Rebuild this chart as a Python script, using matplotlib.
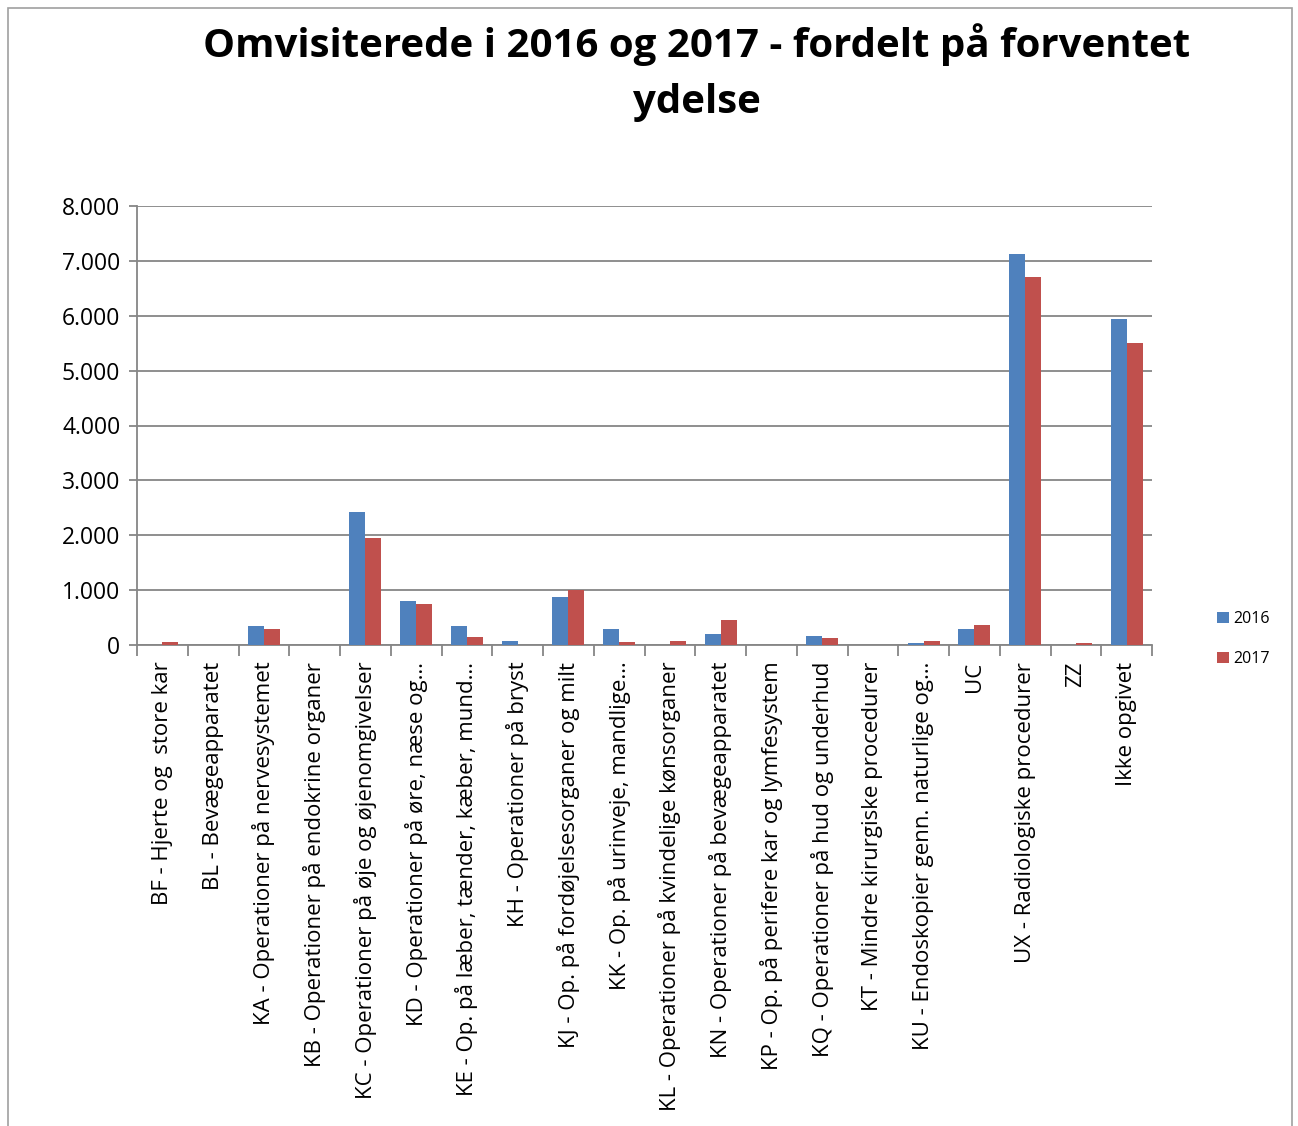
import matplotlib
matplotlib.use("Agg")
import matplotlib.pyplot as plt
import matplotlib.ticker as tck
from matplotlib.patches import Rectangle
import numpy as np

plt.rcParams['font.family'] = ['Open Sans', 'DejaVu Sans']

categories = [
    "BF - Hjerte og  store kar",
    "BL - Bevægeapparatet",
    "KA - Operationer på nervesystemet",
    "KB - Operationer på endokrine organer",
    "KC - Operationer på øje og øjenomgivelser",
    "KD - Operationer på øre, næse og…",
    "KE - Op. på læber, tænder, kæber, mund…",
    "KH - Operationer på bryst",
    "KJ - Op. på fordøjelsesorganer og milt",
    "KK - Op. på urinveje, mandlige…",
    "KL - Operationer på kvindelige kønsorganer",
    "KN - Operationer på bevægeapparatet",
    "KP - Op. på perifere kar og lymfesystem",
    "KQ - Operationer på hud og underhud",
    "KT - Mindre kirurgiske procedurer",
    "KU - Endoskopier genn. naturlige og…",
    "UC",
    "UX - Radiologiske procedurer",
    "ZZ",
    "Ikke opgivet",
]
values_2016 = [0, 0, 340, 0, 2420, 810, 340, 80, 880, 300,
               0, 200, 0, 160, 0, 40, 300, 7120, 0, 5940]
values_2017 = [50, 0, 300, 0, 1950, 740, 150, 0, 1000, 50,
               80, 450, 0, 120, 0, 80, 370, 6710, 40, 5510]
yticks = [0, 1000, 2000, 3000, 4000, 5000, 6000, 7000, 8000]

blue = '#4F81BD'
red = '#C0504D'

fig = plt.figure(figsize=(12.98, 11.26), dpi=100)
ax = fig.add_axes([137/1298, 1 - 645/1126, (1152-137)/1298, (645-206)/1126])

x = np.arange(len(categories))
w = 0.315
ax.bar(x - w/2, values_2016, w, color=blue, label='2016', zorder=3)
ax.bar(x + w/2, values_2017, w, color=red, label='2017', zorder=3)

ax.set_xlim(-0.5, len(categories) - 0.5)
ax.set_ylim(0, 8000)
ax.set_yticks(yticks)
ax.yaxis.set_major_formatter(tck.FuncFormatter(lambda v, p: f"{int(v):,}".replace(",", ".")))
ax.grid(axis='y', color='#868686', linewidth=1.3, zorder=0)

ax.set_xticks(x)
ax.set_xticklabels(categories, rotation=90, va='top', ha='center', fontsize=16)
ax.set_xticks(np.arange(-0.5, len(categories)), minor=True)
ax.tick_params(axis='x', which='major', length=0, pad=12)
ax.tick_params(axis='x', which='minor', length=8, width=1.3, color='#868686')
ax.tick_params(axis='y', length=6, width=1.3, color='#868686', labelsize=16.5, pad=6)

for s in ['top', 'right']:
    ax.spines[s].set_visible(False)
for s in ['left', 'bottom']:
    ax.spines[s].set_color('#868686')
    ax.spines[s].set_linewidth(1.3)

fig.text(697/1298, 1 - 45/1126, "Omvisiterede i 2016 og 2017 - fordelt på forventet",
         ha='center', va='center', fontsize=29, fontweight='bold')
fig.text(697/1298, 1 - 103/1126, "ydelse",
         ha='center', va='center', fontsize=29, fontweight='bold')

fig.legend(loc='center left', bbox_to_anchor=(1203/1298, 1 - 639/1126),
           frameon=False, fontsize=11.5, handlelength=0.7, handleheight=0.7,
           handletextpad=0.3, labelspacing=1.5)

fig.patches.append(Rectangle((8/1298, -0.01), (1292-8)/1298, 1 - 8/1126 + 0.01,
                             transform=fig.transFigure, fill=False,
                             edgecolor='#A0A0A0', linewidth=1.2))

fig.savefig("out.png", dpi=100)
